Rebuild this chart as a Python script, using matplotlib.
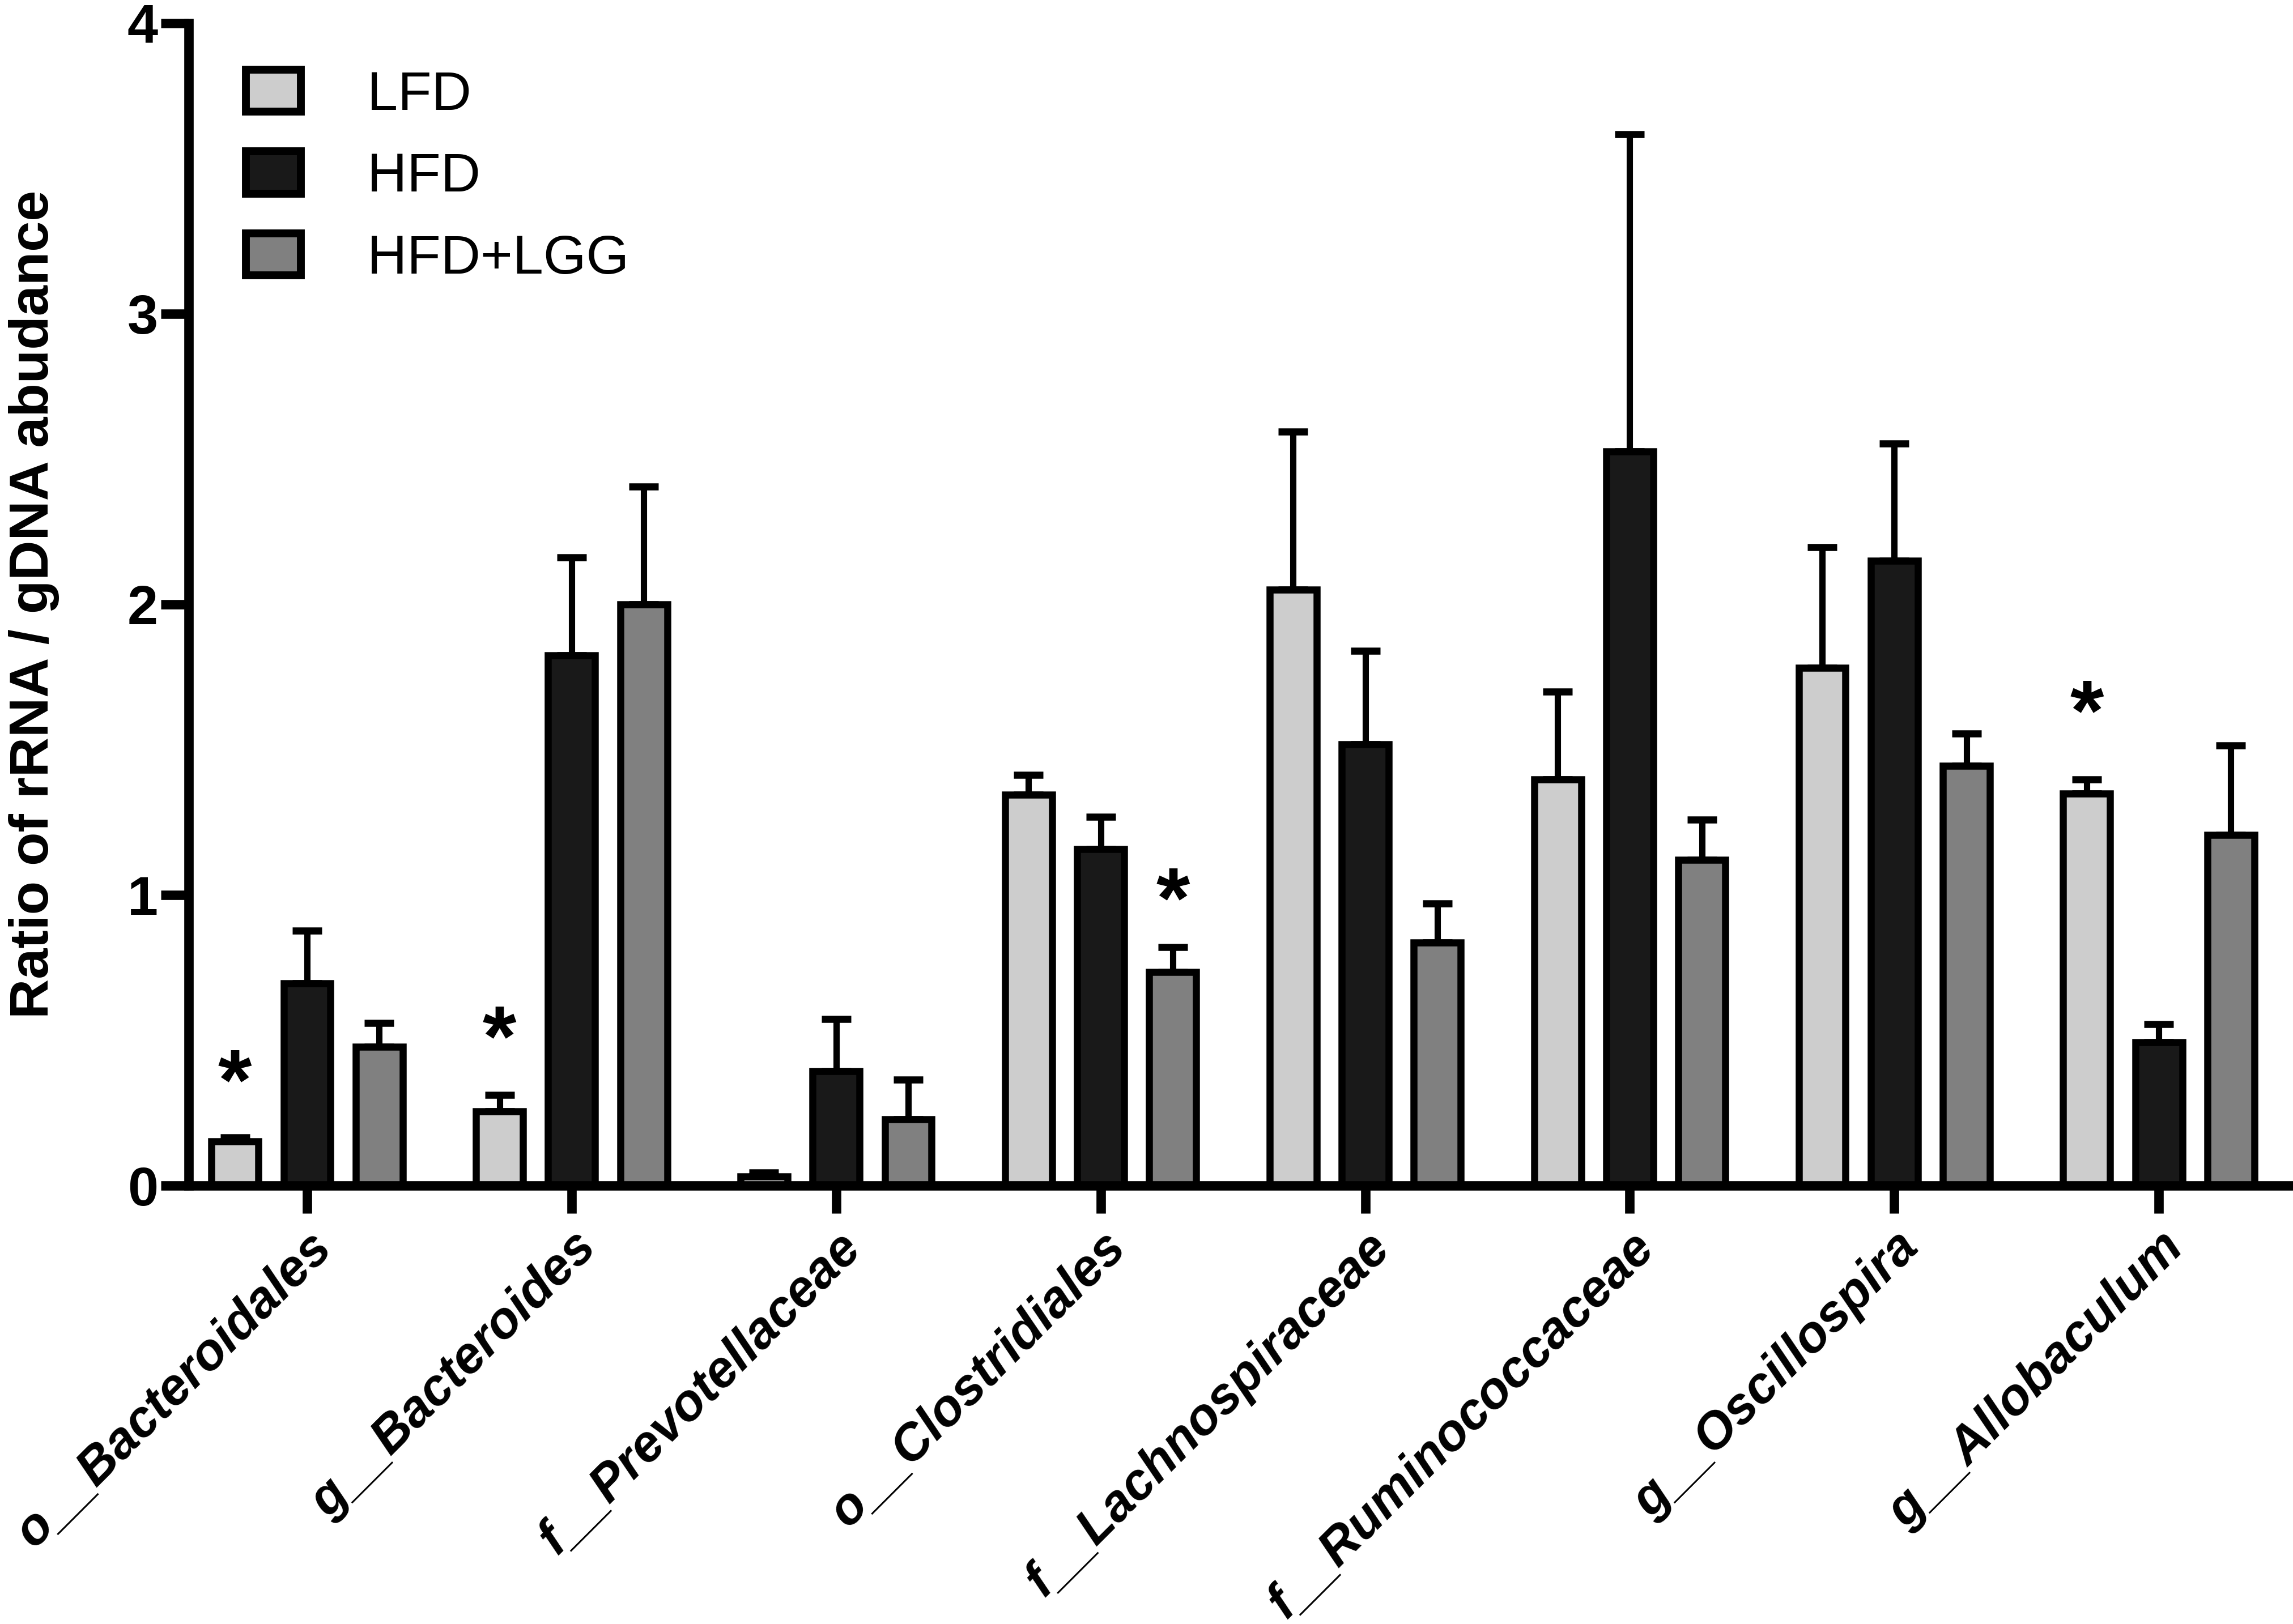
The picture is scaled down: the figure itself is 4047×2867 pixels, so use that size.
import numpy as np
import matplotlib
matplotlib.use("Agg")
import matplotlib.pyplot as plt
from matplotlib.transforms import ScaledTranslation

plt.rcParams['font.family'] = ['Liberation Sans', 'DejaVu Sans']

# taxa on the x axis
categories = ['o__Bacteroidales', 'g__Bacteroides', 'f__Prevotellaceae',
              'o__Clostridiales', 'f__Lachnospiraceae', 'f__Ruminococcaceae',
              'g__Oscillospira', 'g__Allobaculum']
groups = ['LFD', 'HFD', 'HFD+LGG']

# mean ratio and upper end of the error bar (mean + SEM)
lfd = [0.152, 0.256, 0.031, 1.345, 2.050, 1.398, 1.782, 1.348]
lfd_top = [0.166, 0.311, 0.045, 1.414, 2.594, 1.700, 2.196, 1.397]
hfd = [0.696, 1.824, 0.393, 1.157, 1.519, 2.527, 2.150, 0.493]
hfd_top = [0.878, 2.162, 0.572, 1.268, 1.840, 3.617, 2.554, 0.556]
lgg = [0.477, 2.000, 0.228, 0.734, 0.836, 1.121, 1.444, 1.206]
lgg_top = [0.559, 2.405, 0.365, 0.821, 0.970, 1.259, 1.556, 1.515]

# significance stars: (category index, group index, height of star centre)
stars = [(0, 0, 0.400), (1, 0, 0.550), (3, 2, 1.025), (7, 0, 1.670)]

colors = ['#cdcdcd', '#191919', '#808080']

fig = plt.figure(figsize=(40.47, 28.67), dpi=100)
ax = fig.add_axes([0.0823, 0.2700, 0.9157, 0.7157])

x = np.arange(len(categories))
pitch = 0.2726
width = 0.1775
means = [lfd, hfd, lgg]
tops = [lfd_top, hfd_top, lgg_top]
for i in range(3):
    pos = x + (i - 1) * pitch
    m = np.array(means[i])
    err = np.array(tops[i]) - m
    ax.errorbar(pos, m, yerr=[np.zeros_like(err), err], fmt='none',
                ecolor='black', elinewidth=8, capsize=19, capthick=9, zorder=1)
    ax.bar(pos, m, width=width, color=colors[i], edgecolor='black',
           linewidth=9, label=groups[i], zorder=2)

star_fs = 110
for c, g, h in stars:
    # asterisk glyph centre sits roughly half an em above the baseline
    ax.annotate('*', (x[c] + (g - 1) * pitch, h), xytext=(0, -0.46 * star_fs),
                textcoords='offset points', ha='center', va='baseline',
                fontsize=star_fs, fontweight='bold')

ax.set_xlim(-0.4475, 7.49)
ax.set_ylim(0, 4)
ax.set_yticks([0, 1, 2, 3, 4])
ax.set_xticks(x)
ax.set_xticklabels(categories, rotation=45, ha='right', rotation_mode='anchor',
                   fontsize=65, fontweight='bold', fontstyle='italic')
shift = ScaledTranslation(-14 / 100, 0, fig.dpi_scale_trans)
for lab in ax.get_xticklabels():
    lab.set_transform(lab.get_transform() + shift)
for lab in ax.get_yticklabels():
    lab.set_fontsize(70)
    lab.set_fontweight('bold')

for s in ['top', 'right']:
    ax.spines[s].set_visible(False)
for s in ['left', 'bottom']:
    ax.spines[s].set_linewidth(12)
ax.tick_params(axis='both', width=12, length=35, direction='out')
ax.tick_params(axis='y', pad=4)
ax.tick_params(axis='x', pad=13)

fig.text(60 / 4047, 1 - 1067 / 2867, 'Ratio of rRNA / gDNA abudance',
         rotation=90, ha='center', va='center', fontsize=70, fontweight='bold')

leg = ax.legend(loc='upper left', bbox_to_anchor=(434 / 4047, 1 - 123 / 2867),
                bbox_transform=fig.transFigure, frameon=False, fontsize=70,
                handlelength=1.0, handleheight=0.8, handletextpad=1.2,
                labelspacing=0.55, borderpad=0, borderaxespad=0)
for p in leg.get_patches():
    p.set_linewidth(10)

fig.savefig('out.png', dpi=100)
